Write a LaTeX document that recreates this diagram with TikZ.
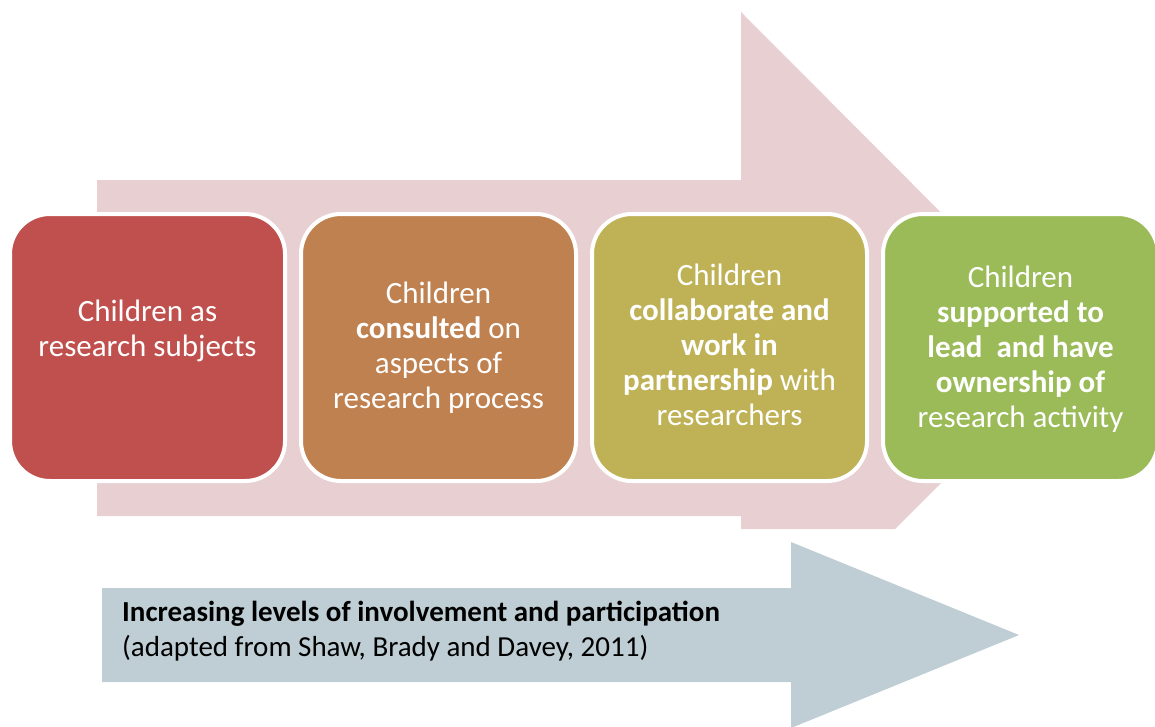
\documentclass[tikz,border=0pt]{standalone}
\usepackage{fontspec}
\setmainfont{Carlito}
\usepackage{xcolor}
\usepackage{tikz}

\definecolor{boxone}{HTML}{C0504D}
\definecolor{boxtwo}{HTML}{BF8150}
\definecolor{boxthree}{HTML}{BFB256}
\definecolor{boxfour}{HTML}{9BBB59}
\definecolor{bigarrow}{HTML}{E8D0D2}
\definecolor{lowarrow}{HTML}{BECED4}

\begin{document}
\begin{tikzpicture}[x=1pt, y=-1pt,
        main/.style = {draw=white, line width=4pt, rounded corners=40pt, minimum width=275pt, minimum height=267pt, inner sep=0pt},
        maintext/.style = {text=white, align=center, inner sep=0pt, font=\fontsize{31}{35}\selectfont}]
        \useasboundingbox (0, 0) rectangle (1155, 726);
        % background arrows
        \fill[bigarrow] (97, 180) -- (741, 180) -- (741, 12) -- (1076, 348) -- (895, 529) -- (741, 529) -- (741, 516) -- (97, 516) -- cycle;
        \fill[lowarrow] (102, 588) -- (791, 588) -- (791, 542) -- (1019, 635) -- (791, 728) -- (791, 682) -- (102, 682) -- cycle;
        % stages
        \node[main, fill=boxone] (1) at (147.5, 347.5) {};
        \node[main, fill=boxtwo] (2) at (438.5, 347.5) {};
        \node[main, fill=boxthree] (3) at (729.5, 347.5) {};
        \node[main, fill=boxfour] (4) at (1020.5, 347.5) {};
        \node[maintext] (t1) at (147.5, 331) {Children as\\research subjects};
        \node[maintext] (t2) at (438.5, 348) {Children\\\textbf{consulted} on\\aspects of\\research process};
        \node[maintext] (t3) at (729.5, 345) {Children\\\textbf{collaborate and}\\\textbf{work in}\\\textbf{partnership} with\\researchers};
        \node[maintext] (t4) at (1020.5, 349) {Children\\\textbf{supported to}\\\textbf{lead~ and have}\\\textbf{ownership of}\\research activity};
        \node[anchor=west, align=left, inner sep=0pt, font=\fontsize{29}{35}\selectfont] (note) at (122, 631) {\textbf{Increasing levels of involvement and participation}\\(adapted from Shaw, Brady and Davey, 2011)};
    \end{tikzpicture}
\end{document}
